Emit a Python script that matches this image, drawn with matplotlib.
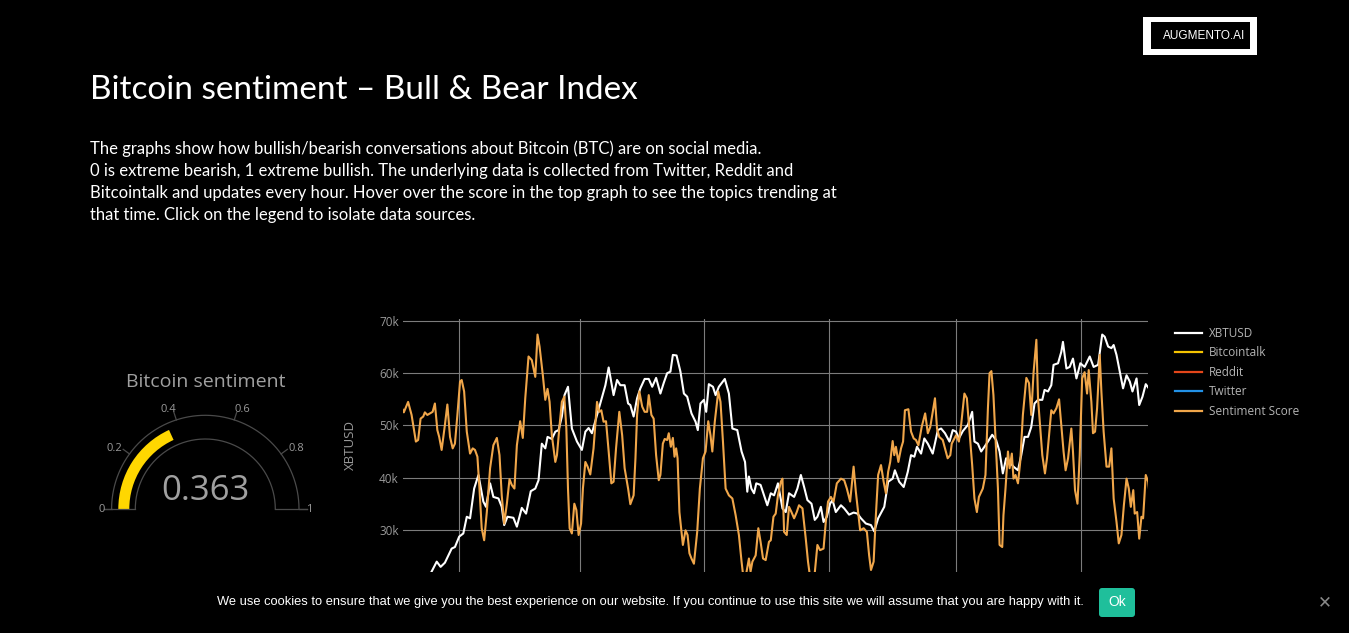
import matplotlib
matplotlib.use("Agg")
import matplotlib.pyplot as plt
import matplotlib.dates as mdates
from matplotlib.patches import Wedge, Rectangle, FancyBboxPatch
from matplotlib.lines import Line2D
import numpy as np
import pandas as pd

# XBTUSD price (thousands of USD), days since 2021-01-01
price_days = [-13.4, -10.9, -9.0, -6.9, -3.6, -2.0, 0.1, 2.1, 3.8, 5.4,
              7.4, 9.5, 11.9, 13.2, 15.2, 16.8, 19.3, 20.9, 22.1, 23.7,
              26.6, 28.3, 30.7, 32.8, 35.1, 37.3, 38.9, 40.5, 42.2, 43.3,
              45.4, 47.1, 48.7, 50.3, 51.6, 53.3, 55.2, 57.7, 60.1, 61.8,
              63.4, 65.0, 67.5, 70.0, 71.6, 73.2, 75.6, 77.3, 78.9, 81.0,
              82.7, 83.8, 85.4, 87.1, 88.7, 90.8, 92.8, 94.5, 96.4, 98.5,
              100.1, 101.8, 103.4, 104.6, 106.4, 108.3, 110.0, 111.6, 113.7, 115.7,
              116.8, 118.1, 119.8, 120.9, 122.2, 124.2, 125.5, 127.1, 130.0, 132.0,
              133.7, 136.1, 138.2, 139.9, 141.0, 141.8, 143.0, 144.3, 145.4, 147.5,
              149.2, 150.8, 152.5, 154.1, 156.0, 158.2, 159.8, 161.4, 163.9, 165.5,
              167.2, 168.8, 170.4, 172.4, 174.0, 175.3, 177.0, 178.3, 179.9, 181.5,
              182.7, 184.3, 186.8, 188.4, 190.8, 193.0, 194.9, 196.6, 199.0, 201.5,
              203.1, 205.0, 208.0, 209.9, 212.1, 213.2, 215.3, 217.5, 219.5, 221.1,
              222.7, 224.0, 226.0, 227.6, 229.3, 231.7, 234.2, 235.8, 237.7, 239.9,
              241.5, 243.1, 244.5, 246.4, 248.9, 251.0, 252.1, 253.8, 255.4, 257.0,
              258.7, 260.8, 262.7, 264.4, 266.0, 267.6, 269.3, 271.2, 273.4, 275.0,
              276.6, 278.3, 279.9, 281.5, 283.2, 285.3, 286.4, 288.1, 289.7, 290.8,
              293.0, 294.6, 295.4, 297.1, 298.7, 300.3, 302.0, 303.9, 306.0, 308.5,
              310.4, 312.6, 314.6, 315.8, 317.5, 319.1, 320.2, 321.6, 323.2, 324.8,
              326.5, 328.1, 329.4, 331.4, 332.7, 334.3, 335.9, 337.6]
price_k = [22.0, 23.9, 22.9, 23.7, 26.4, 26.7, 28.7, 29.3, 32.5, 32.2,
           37.9, 40.5, 35.4, 34.4, 38.9, 36.3, 36.0, 34.4, 30.9, 32.5,
           32.3, 30.6, 34.2, 33.1, 37.4, 37.9, 39.5, 46.5, 45.6, 47.8,
           47.4, 48.8, 49.1, 51.7, 55.8, 57.4, 49.4, 46.9, 45.3, 48.8,
           49.5, 48.5, 52.0, 55.5, 57.7, 61.1, 55.8, 58.7, 57.7, 57.7,
           54.2, 53.9, 51.7, 55.2, 57.1, 58.9, 58.9, 57.4, 59.1, 56.1,
           58.1, 60.0, 60.3, 63.5, 63.4, 60.3, 56.1, 55.5, 52.3, 50.7,
           49.1, 54.2, 54.9, 52.6, 57.9, 57.4, 55.8, 57.4, 58.9, 56.1,
           49.4, 49.1, 45.0, 43.0, 37.3, 40.2, 37.9, 37.0, 38.9, 38.6,
           36.6, 34.7, 37.0, 36.6, 38.9, 34.1, 33.4, 37.0, 36.3, 37.9,
           40.5, 38.2, 35.7, 35.0, 31.9, 32.5, 34.4, 31.5, 32.5, 35.0,
           35.7, 33.4, 34.7, 34.1, 32.9, 33.3, 33.1, 32.2, 31.2, 30.9,
           29.7, 32.2, 34.4, 39.2, 39.8, 41.4, 39.2, 38.2, 41.1, 44.3,
           44.0, 45.9, 44.6, 47.5, 46.5, 44.6, 49.1, 49.4, 48.5, 46.9,
           49.1, 48.8, 47.5, 48.9, 50.1, 52.6, 46.9, 46.5, 45.0, 45.9,
           46.9, 48.2, 47.2, 45.0, 40.8, 43.7, 43.0, 42.1, 41.4, 44.3,
           47.8, 47.8, 49.7, 54.2, 54.9, 54.9, 56.8, 56.5, 57.7, 61.6,
           61.9, 64.1, 66.0, 60.9, 61.2, 62.8, 59.0, 61.9, 61.2, 63.2,
           61.2, 61.6, 67.4, 67.0, 65.1, 64.8, 65.4, 63.5, 60.3, 57.1,
           59.6, 58.4, 56.5, 59.0, 53.9, 55.5, 57.9, 57.0]

# Sentiment score (0..1), days since 2021-01-01
sent_days = [-27.5, -27.0, -24.9, -23.2, -21.1, -20.0, -18.8, -17.5, -16.7, -15.5,
             -14.2, -12.9, -11.8, -10.6, -9.7, -8.5, -6.9, -5.7, -4.4, -3.1,
             -2.0, -0.8, 0.5, 1.3, 2.5, 3.8, 5.4, 6.7, 7.8, 9.0,
             10.0, 11.1, 12.3, 13.6, 15.2, 16.8, 18.5, 19.8, 20.9, 22.1,
             23.4, 24.7, 25.8, 27.1, 28.3, 29.9, 31.2, 32.4, 34.0, 35.6,
             37.3, 38.4, 39.4, 41.0, 42.2, 43.3, 44.3, 45.4, 47.1, 47.9,
             49.2, 50.3, 51.5, 52.5, 53.3, 54.1, 55.2, 56.4, 57.4, 58.5,
             59.7, 60.6, 61.8, 62.9, 64.2, 65.8, 67.5, 68.6, 69.6, 70.7,
             71.9, 73.2, 74.5, 75.6, 76.8, 78.4, 79.8, 81.0, 82.7, 83.8,
             85.4, 86.3, 87.1, 88.2, 89.6, 90.8, 92.0, 92.8, 94.1, 95.2,
             96.4, 97.7, 98.5, 99.7, 100.6, 101.8, 102.6, 103.6, 104.6, 105.4,
             106.2, 106.9, 107.8, 109.5, 110.8, 111.8, 112.7, 113.7, 114.9, 116.5,
             117.8, 119.3, 120.6, 121.9, 123.0, 123.9, 125.1, 126.8, 127.9, 129.1,
             130.4, 132.0, 133.7, 135.3, 136.9, 138.2, 139.2, 140.2, 141.8, 142.6,
             143.5, 145.1, 146.4, 147.5, 148.7, 150.0, 151.6, 152.5, 153.8, 154.9,
             156.0, 157.4, 158.2, 159.0, 160.3, 161.4, 162.6, 163.9, 165.2, 166.3,
             168.0, 169.6, 170.7, 171.7, 173.7, 175.3, 176.6, 178.3, 179.4, 180.5,
             181.9, 183.2, 184.8, 186.8, 188.4, 189.7, 191.3, 193.0, 194.1, 195.2,
             196.2, 197.9, 199.5, 200.6, 201.5, 202.8, 203.9, 205.0, 206.4, 207.7,
             208.8, 209.9, 210.9, 212.1, 212.9, 213.7, 214.9, 216.2, 217.2, 218.1,
             219.8, 221.1, 222.4, 223.5, 224.7, 226.3, 228.0, 229.3, 230.5, 231.7,
             232.8, 233.8, 234.9, 236.6, 237.7, 239.0, 240.3, 241.0, 242.3, 243.1,
             244.5, 245.6, 247.2, 248.4, 249.7, 251.0, 252.1, 253.3, 254.3, 256.2,
             257.5, 258.7, 259.5, 260.4, 261.4, 262.4, 263.6, 264.4, 265.7, 266.3,
             267.3, 268.5, 269.3, 270.4, 271.2, 272.2, 273.4, 274.5, 275.8, 277.5,
             278.8, 279.9, 281.0, 282.4, 283.2, 284.3, 285.3, 286.6, 287.6, 288.6,
             289.7, 290.8, 292.2, 293.5, 294.6, 295.7, 296.7, 297.9, 299.5, 300.3,
             301.3, 302.5, 303.6, 304.8, 306.0, 307.2, 308.0, 309.3, 310.1, 311.1,
             312.1, 313.4, 314.2, 315.3, 316.7, 318.0, 319.1, 320.2, 321.6, 322.7,
             324.0, 325.2, 326.5, 327.6, 328.6, 329.8, 330.5, 331.7, 332.7, 333.8,
             334.6, 335.9, 337.1, 337.9]
sent_score = [0.530, 0.525, 0.545, 0.520, 0.469, 0.472, 0.513, 0.517, 0.525, 0.520,
              0.523, 0.526, 0.542, 0.491, 0.478, 0.453, 0.501, 0.540, 0.478, 0.456,
              0.465, 0.520, 0.584, 0.587, 0.565, 0.488, 0.446, 0.456, 0.453, 0.440,
              0.379, 0.303, 0.280, 0.334, 0.418, 0.462, 0.476, 0.443, 0.366, 0.312,
              0.350, 0.397, 0.386, 0.379, 0.462, 0.508, 0.476, 0.552, 0.632, 0.625,
              0.593, 0.674, 0.651, 0.596, 0.549, 0.570, 0.545, 0.481, 0.430, 0.443,
              0.501, 0.545, 0.555, 0.494, 0.379, 0.303, 0.293, 0.350, 0.338, 0.290,
              0.312, 0.379, 0.430, 0.421, 0.406, 0.456, 0.545, 0.526, 0.529, 0.507,
              0.508, 0.450, 0.389, 0.392, 0.456, 0.526, 0.481, 0.418, 0.379, 0.349,
              0.366, 0.437, 0.520, 0.565, 0.536, 0.526, 0.526, 0.558, 0.520, 0.513,
              0.443, 0.395, 0.405, 0.465, 0.474, 0.472, 0.485, 0.459, 0.476, 0.440,
              0.456, 0.437, 0.334, 0.271, 0.299, 0.290, 0.255, 0.245, 0.235, 0.296,
              0.379, 0.437, 0.450, 0.508, 0.481, 0.450, 0.507, 0.565, 0.545, 0.469,
              0.379, 0.366, 0.360, 0.328, 0.290, 0.239, 0.205, 0.210, 0.245, 0.220,
              0.239, 0.251, 0.303, 0.277, 0.245, 0.242, 0.277, 0.280, 0.325, 0.331,
              0.366, 0.392, 0.398, 0.296, 0.290, 0.344, 0.334, 0.322, 0.334, 0.347,
              0.341, 0.283, 0.239, 0.210, 0.205, 0.271, 0.261, 0.264, 0.315, 0.354,
              0.363, 0.354, 0.389, 0.398, 0.395, 0.379, 0.354, 0.421, 0.373, 0.334,
              0.299, 0.303, 0.296, 0.251, 0.223, 0.239, 0.328, 0.405, 0.424, 0.392,
              0.370, 0.411, 0.430, 0.470, 0.443, 0.459, 0.430, 0.456, 0.469, 0.529,
              0.531, 0.488, 0.475, 0.472, 0.462, 0.497, 0.523, 0.485, 0.497, 0.526,
              0.552, 0.494, 0.478, 0.472, 0.456, 0.437, 0.443, 0.465, 0.475, 0.481,
              0.469, 0.501, 0.561, 0.552, 0.488, 0.424, 0.360, 0.334, 0.363, 0.379,
              0.405, 0.533, 0.600, 0.604, 0.558, 0.475, 0.379, 0.271, 0.267, 0.328,
              0.379, 0.450, 0.418, 0.446, 0.398, 0.405, 0.389, 0.430, 0.520, 0.591,
              0.581, 0.520, 0.600, 0.664, 0.552, 0.494, 0.443, 0.408, 0.437, 0.481,
              0.529, 0.523, 0.533, 0.550, 0.501, 0.450, 0.414, 0.437, 0.494, 0.450,
              0.376, 0.350, 0.443, 0.590, 0.602, 0.561, 0.606, 0.545, 0.485, 0.488,
              0.533, 0.635, 0.565, 0.488, 0.421, 0.421, 0.456, 0.360, 0.315, 0.274,
              0.290, 0.347, 0.398, 0.379, 0.344, 0.376, 0.331, 0.334, 0.283, 0.325,
              0.322, 0.405, 0.392, 0.363]

gauge_value = 0.363
gauge_ticks = [0, 0.2, 0.4, 0.6, 0.8, 1]
legend_names = ["XBTUSD", "Bitcointalk", "Reddit", "Twitter", "Sentiment Score"]
legend_colors = ["#ffffff", "#f5c400", "#e4461a", "#2291e6", "#f0a64a"]

W, H = 1349, 633
start = pd.Timestamp("2021-01-01")
price_dates = start + pd.to_timedelta(price_days, unit="D")
sent_dates = start + pd.to_timedelta(sent_days, unit="D")

fig = plt.figure(figsize=(W / 100, H / 100), dpi=100, facecolor="black")

# page overlay in pixel coordinates (headers, logo, cookie bar)
page = fig.add_axes([0, 0, 1, 1])
page.set_xlim(0, W)
page.set_ylim(H, 0)
page.axis("off")
page.patch.set_alpha(0)

page.text(90, 90, "Bitcoin sentiment \u2013 Bull & Bear Index", color="white",
          fontsize=24, family="Lato", va="center", ha="left")
para = ["The graphs show how bullish/bearish conversations about Bitcoin (BTC) are on social media.",
        "0 is extreme bearish, 1 extreme bullish. The underlying data is collected from Twitter, Reddit and",
        "Bitcointalk and updates every hour. Hover over the score in the top graph to see the topics trending at",
        "that time. Click on the legend to isolate data sources."]
for i, line in enumerate(para):
    page.text(90, 149 + i * 22, line, color="white", fontsize=12, family="Lato",
              va="center", ha="left")

# logo box
page.add_patch(Rectangle((1143, 17), 114, 38, facecolor="white", edgecolor="none"))
page.add_patch(Rectangle((1151, 22), 99, 27, facecolor="black", edgecolor="none"))
page.text(1204, 36, "AUGMENTO.AI", color="white", fontsize=8.5, family="Liberation Sans",
          va="center", ha="center")

# cookie bar
page.text(650, 602, "We use cookies to ensure that we give you the best experience on our website. "
          "If you continue to use this site we will assume that you are happy with it.",
          color="white", fontsize=9.3, family="Liberation Sans",
          va="center", ha="center")
page.add_patch(FancyBboxPatch((1099, 588), 36, 29, boxstyle="round,pad=0,rounding_size=3",
                              facecolor="#1fbf9b", edgecolor="none"))
page.text(1117, 602, "Ok", color="white", fontsize=10, family="Liberation Sans",
          va="center", ha="center")
page.text(1325, 602, "\u2715", color="#888888", fontsize=12, va="center", ha="center")

# main chart
ax_l, ax_r, ax_t, ax_b = 403, 1148, 319, 572
ax = fig.add_axes([ax_l / W, (H - ax_b) / H, (ax_r - ax_l) / W, (ax_b - ax_t) / H])
ax.set_facecolor("black")
ylo = 70 - (ax_b - 321) / 5.22
yhi = 70 + (321 - ax_t) / 5.22
ax.set_ylim(ylo, yhi)
ax.set_xlim(start - pd.Timedelta(days=27.4), start + pd.Timedelta(days=337.0))
for s in ax.spines.values():
    s.set_visible(False)
ax.xaxis.set_major_locator(mdates.MonthLocator(bymonth=[1, 3, 5, 7, 9, 11]))
ax.tick_params(axis="x", length=0, labelbottom=False)
ax.set_yticks([30, 40, 50, 60, 70])
ax.set_yticklabels(["30k", "40k", "50k", "60k", "70k"])
ax.tick_params(axis="y", length=0, pad=3, labelcolor="#9a9a9a", labelsize=8.5)
for lab in ax.get_yticklabels():
    lab.set_family("Open Sans")
ax.grid(True, color="#7c7c7c", linewidth=0.8)
ax.set_axisbelow(True)
ax.set_ylabel("XBTUSD", color="#9a9a9a", fontsize=9.5, family="Open Sans", labelpad=16)
ax.plot(price_dates, price_k, color="white", linewidth=1.5, solid_joinstyle="round")

ax2 = ax.twinx()
ax2.set_ylim(ylo / 100, yhi / 100)
ax2.axis("off")
ax2.plot(sent_dates, sent_score, color=legend_colors[4], linewidth=1.5, solid_joinstyle="round")

handles = [Line2D([], [], color=c, linewidth=1.6) for c in legend_colors]
leg = fig.legend(handles, legend_names, loc="upper left", bbox_to_anchor=(1175 / W, 1 - 327 / H),
                 frameon=False, handlelength=2.3, handletextpad=0.55,
                 labelspacing=0.55, borderaxespad=0, borderpad=0,
                 prop={"family": "Open Sans", "size": 8.5})
for t in leg.get_texts():
    t.set_color("#b4b4b4")

# gauge, 1 unit = 1 pixel, origin at gauge centre
cx, cy = 205.3, 509
g = fig.add_axes([(cx - 120) / W, (H - (cy + 16)) / H, 240 / W, 165 / H])
g.set_xlim(-120, 120)
g.set_ylim(-16, 149)
g.axis("off")
g.patch.set_alpha(0)
r_out, r_in, r_tick = 93.7, 70, 101.5
th = np.linspace(0, np.pi, 200)
g.plot(r_out * np.cos(th), r_out * np.sin(th), color="#4a4a4a", linewidth=0.9)
g.plot(r_in * np.cos(th), r_in * np.sin(th), color="#4a4a4a", linewidth=0.9)
g.plot([-r_tick, -r_in], [0, 0], color="#4a4a4a", linewidth=0.9)
g.plot([r_in, r_tick], [0, 0], color="#4a4a4a", linewidth=0.9)
g.add_patch(Wedge((0, 0), 87, 180 * (1 - gauge_value), 180, width=11,
                  facecolor="#ffd700", edgecolor="none"))
for v in gauge_ticks:
    a = np.pi * (1 - v)
    g.plot([r_out * np.cos(a), r_tick * np.cos(a)], [r_out * np.sin(a), r_tick * np.sin(a)],
           color="#4a4a4a", linewidth=0.9)
    if v in (0, 1):
        lx, ly = 104 * np.cos(a), 0
    else:
        lx = 108 * np.cos(a) + 4 * np.sign(np.cos(a))
        ly = 108 * np.sin(a) - 3
    g.text(lx, ly, f"{v:g}", color="#9a9a9a", fontsize=8,
           family="Open Sans", ha="center", va="center")
g.text(0, 18, f"{gauge_value:.3f}", color="#a0a0a0", fontsize=25, family="Open Sans",
       ha="center", va="center")
g.text(0, 127, "Bitcoin sentiment", color="#a0a0a0", fontsize=14, family="Open Sans",
       ha="center", va="center")

fig.savefig("out.png", dpi=100, facecolor="black")
